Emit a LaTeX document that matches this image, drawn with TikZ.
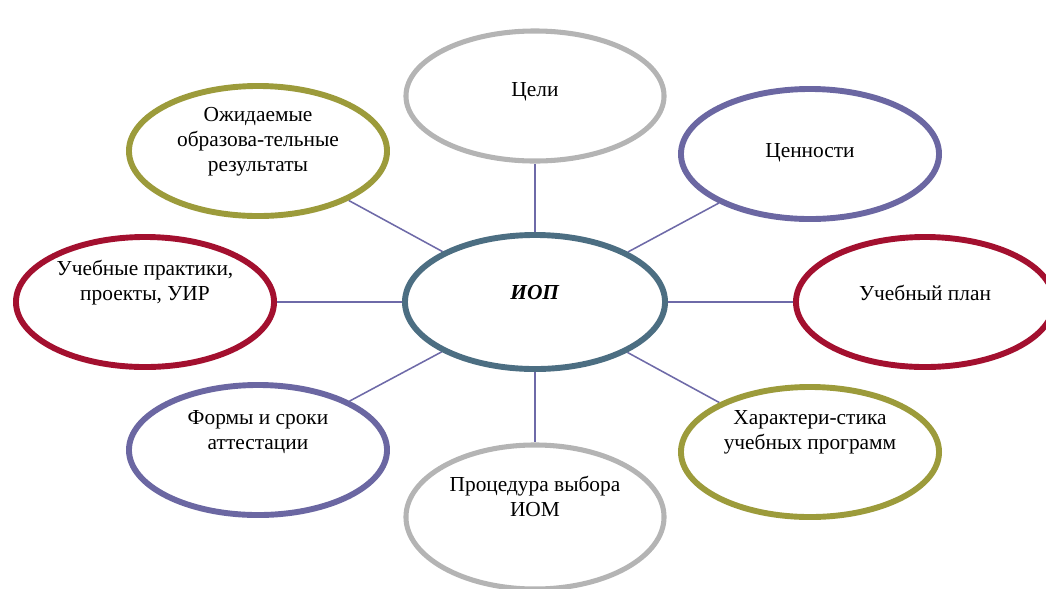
\documentclass[tikz,border=0pt]{standalone}
\usepackage{fontspec}
\setmainfont{Liberation Serif}
\usetikzlibrary{shapes.geometric,backgrounds}

\definecolor{ringgray}{HTML}{B4B4B4}
\definecolor{ringviolet}{HTML}{6B67A2}
\definecolor{ringred}{HTML}{A3102F}
\definecolor{ringolive}{HTML}{9C9B3B}
\definecolor{ringslate}{HTML}{4C6E82}
\definecolor{linkviolet}{HTML}{6E6AA8}

\tikzset{
  ring/.style={draw,ellipse,fill=white,line width=4.2pt,minimum width=6.45cm,minimum height=3.25cm,inner sep=0pt},
  caption/.style={align=center,inner sep=0pt,font=\fontsize{15.2}{17.7}\selectfont},
  link/.style={draw=linkviolet,line width=1.1pt},
}

\begin{document}
\begin{tikzpicture}[x=0.025cm,y=-0.025cm]
			\useasboundingbox (0,0) rectangle (1046,588);
			\clip (0,0) rectangle (1046,588);
			\node[ring,draw=ringslate,minimum width=6.5cm,minimum height=3.35cm,label={[caption,yshift=6.4pt]center:\textbf{\textit{ИОП}}}] (iop) at (535,302){};
			\node[ring,draw=ringgray,line width=3.6pt,label={[caption,yshift=3pt]center:Цели}] (goals) at (535,96){};
			\node[ring,draw=ringviolet,label={[caption,yshift=0.7pt]center:Ценности}] (values) at (810,154){};
			\node[ring,draw=ringred,label={[caption,yshift=6.6pt]center:Учебный план}] (plan) at (925,302){};
			\node[ring,draw=ringolive,label={[caption,yshift=14pt]center:Характери-стика\\учебных программ}] (chars) at (810,452){};
			\node[ring,draw=ringgray,line width=3.6pt,minimum height=3.6cm,label={[caption,yshift=14.5pt]center:Процедура выбора\\ИОМ}] (choice) at (535,517){};
			\node[ring,draw=ringviolet,label={[caption,yshift=12.7pt]center:Формы и сроки\\аттестации}] (forms) at (258,450){};
			\node[ring,draw=ringred,label={[caption,yshift=14pt]center:Учебные практики,\\проекты, УИР}] (practice) at (145,302){};
			\node[ring,draw=ringolive,label={[caption,yshift=6.4pt]center:Ожидаемые\\образова-тельные\\результаты}] (results) at (258,151){};
			% connectors behind the rings
			\begin{scope}[on background layer]
			\draw (iop) edge [link] (goals);
			\draw (iop) edge [link] (values);
			\draw (iop) edge [link] (plan);
			\draw (iop) edge [link] (chars);
			\draw (iop) edge [link] (choice);
			\draw (iop) edge [link] (forms);
			\draw (iop) edge [link] (practice);
			\draw (iop) edge [link] (results);
			\end{scope}
\end{tikzpicture}
\end{document}
